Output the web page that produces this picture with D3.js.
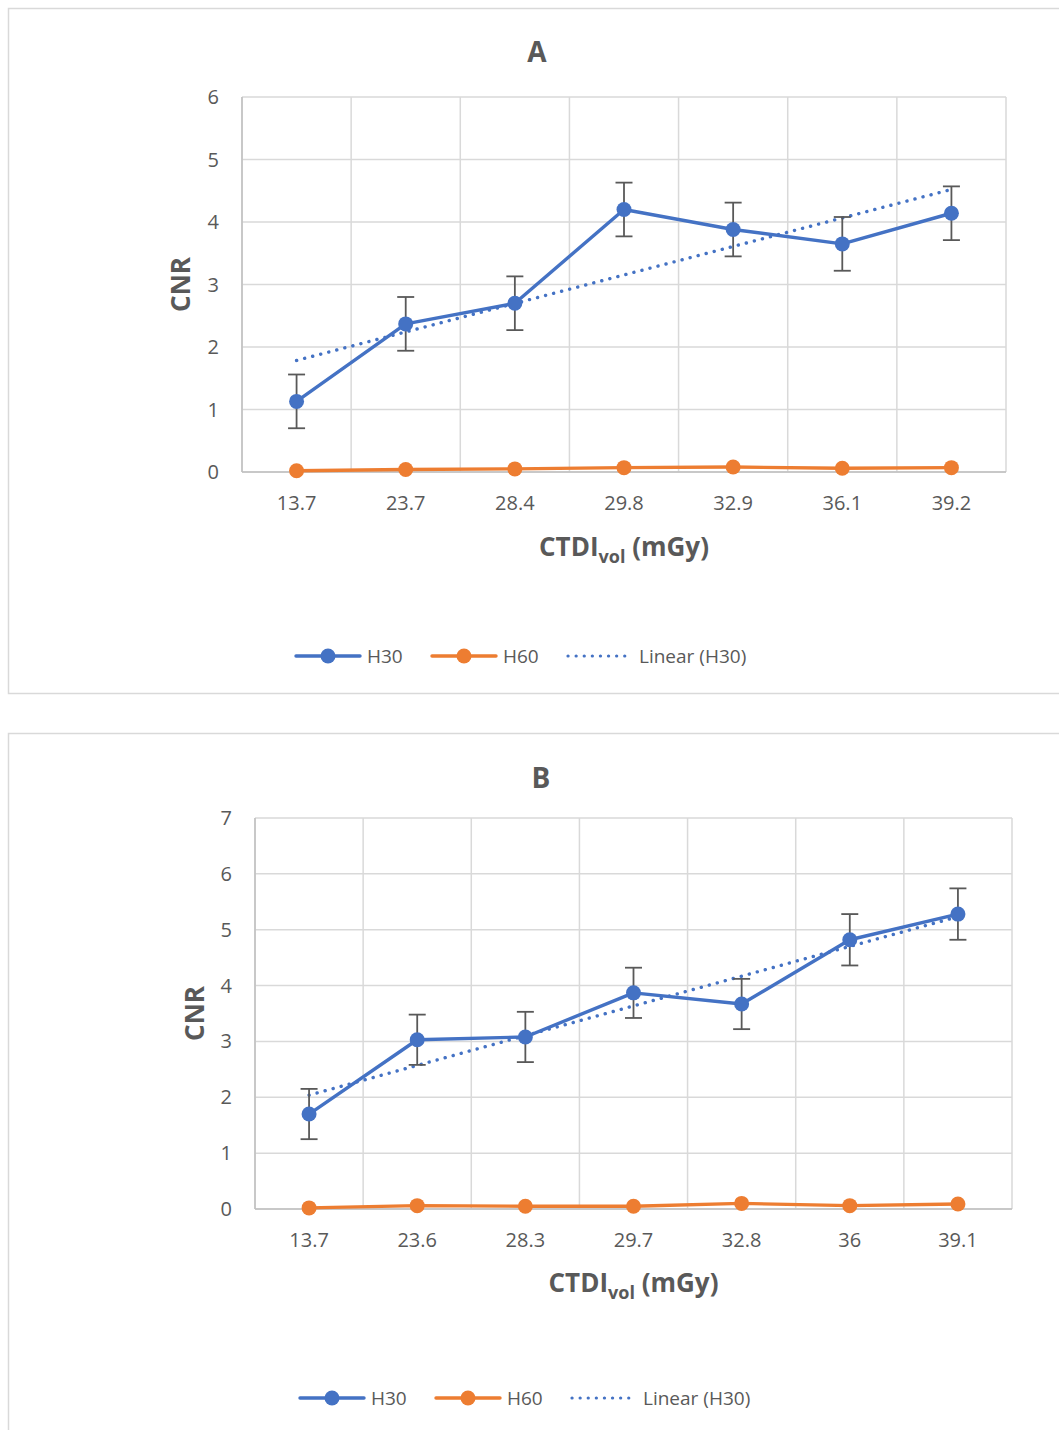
<!DOCTYPE html>
<html>
<head>
<meta charset="utf-8">
<script src="https://cdn.jsdelivr.net/npm/d3@7"></script>
<style>
    body { margin: 0; background: #fff; }
    svg { display: block; font-family: 'Open Sans', 'Noto Sans', sans-serif; }
    .tick-label { fill: #595959; font-size: 20px; }
    .axis-title { fill: #595959; font-weight: bold; }
    .legend-label { fill: #595959; font-size: 19px; }
</style>
</head>
<body>
<div id="chart"></div>
<script>
// panel A
const catsA = ['13.7', '23.7', '28.4', '29.8', '32.9', '36.1', '39.2']
const h30A = [1.13, 2.37, 2.70, 4.20, 3.88, 3.65, 4.14]
const h30ErrA = [0.43, 0.43, 0.43, 0.43, 0.43, 0.43, 0.43]
const h60A = [0.02, 0.04, 0.05, 0.07, 0.08, 0.06, 0.07]
const yTicksA = [0, 1, 2, 3, 4, 5, 6]

// panel B
const catsB = ['13.7', '23.6', '28.3', '29.7', '32.8', '36', '39.1']
const h30B = [1.70, 3.03, 3.08, 3.87, 3.67, 4.82, 5.28]
const h30ErrB = [0.45, 0.45, 0.45, 0.45, 0.45, 0.46, 0.46]
const h60B = [0.02, 0.06, 0.05, 0.05, 0.10, 0.06, 0.09]
const yTicksB = [0, 1, 2, 3, 4, 5, 6, 7]

const blue = '#4472c4'
const orange = '#ed7d31'

const svg = d3.select('#chart').append('svg')
    .attr('width', 1059).attr('height', 1430)

drawPanel({
    top: 8, height: 685, title: 'A', titleX: 537, titleY: 62,
    plot: { left: 242, right: 1006, top: 97, bottom: 472 },
    cats: catsA, h30: h30A, err: h30ErrA, h60: h60A, yTicks: yTicksA,
    cnrX: 181, xTitleY: 556, legendY: 656, legendX: 295
})
drawPanel({
    top: 733, height: 760, title: 'B', titleX: 541, titleY: 788,
    plot: { left: 255, right: 1012, top: 818, bottom: 1209 },
    cats: catsB, h30: h30B, err: h30ErrB, h60: h60B, yTicks: yTicksB,
    cnrX: 195, xTitleY: 1292, legendY: 1398, legendX: 299
})

function drawPanel(p) {
    const g = svg.append('g')

    // chart border (runs off the right edge)
    g.append('rect')
        .attr('x', 8.5).attr('y', p.top + .5)
        .attr('width', 1100).attr('height', p.height)
        .attr('fill', 'none').attr('stroke', '#d9d9d9').attr('stroke-width', 1.5)

    const xScale = d3.scaleBand()
        .domain(p.cats)
        .range([p.plot.left, p.plot.right])
    const bw = xScale.bandwidth()
    const cx = d => xScale(d) + bw / 2

    const yScale = d3.scaleLinear()
        .domain([0, d3.max(p.yTicks)])
        .range([p.plot.bottom, p.plot.top])

    // gridlines
    g.selectAll('.hgrid').data(p.yTicks).join('line')
        .attr('x1', p.plot.left).attr('x2', p.plot.right)
        .attr('y1', d => yScale(d)).attr('y2', d => yScale(d))
        .attr('stroke', '#d9d9d9').attr('stroke-width', 1.5)
    g.selectAll('.vgrid').data(d3.range(p.cats.length + 1)).join('line')
        .attr('x1', i => p.plot.left + i * bw).attr('x2', i => p.plot.left + i * bw)
        .attr('y1', p.plot.top).attr('y2', p.plot.bottom)
        .attr('stroke', '#d9d9d9').attr('stroke-width', 1.5)

    // axis lines
    g.append('line')
        .attr('x1', p.plot.left).attr('x2', p.plot.left)
        .attr('y1', p.plot.top).attr('y2', p.plot.bottom)
        .attr('stroke', '#bfbfbf').attr('stroke-width', 1.5)
    g.append('line')
        .attr('x1', p.plot.left).attr('x2', p.plot.right)
        .attr('y1', p.plot.bottom).attr('y2', p.plot.bottom)
        .attr('stroke', '#bfbfbf').attr('stroke-width', 1.5)

    // tick labels
    g.selectAll('.ytick').data(p.yTicks).join('text')
        .attr('class', 'tick-label')
        .attr('x', p.plot.left - 23).attr('y', d => yScale(d))
        .attr('dy', '.35em').attr('text-anchor', 'end')
        .text(d => d)
    g.selectAll('.xtick').data(p.cats).join('text')
        .attr('class', 'tick-label')
        .attr('x', cx).attr('y', p.plot.bottom + 31)
        .attr('dy', '.35em').attr('text-anchor', 'middle')
        .text(d => d)

    // titles
    g.append('text').attr('class', 'axis-title')
        .attr('x', p.titleX).attr('y', p.titleY)
        .attr('text-anchor', 'middle').style('font-size', '28px')
        .text(p.title)
    g.append('text').attr('class', 'axis-title')
        .attr('transform', `translate(${p.cnrX + 9}, ${(p.plot.top + p.plot.bottom) / 2}) rotate(-90)`)
        .attr('text-anchor', 'middle').style('font-size', '26px')
        .text('CNR')
    const xt = g.append('text').attr('class', 'axis-title')
        .attr('x', (p.plot.left + p.plot.right) / 2).attr('y', p.xTitleY)
        .attr('text-anchor', 'middle').style('font-size', '26px')
    xt.append('tspan').text('CTDI')
    xt.append('tspan').attr('dy', 7).style('font-size', '18px').text('vol')
    xt.append('tspan').attr('dy', -7).text(' (mGy)')

    // linear trend of H30
    const xs = p.h30.map((d, i) => i + 1)
    const mx = d3.mean(xs), my = d3.mean(p.h30)
    const slope = d3.sum(xs, (x, i) => (x - mx) * (p.h30[i] - my)) / d3.sum(xs, x => (x - mx) ** 2)
    const icpt = my - slope * mx
    const first = p.cats[0], last = p.cats[p.cats.length - 1]
    g.append('line')
        .attr('x1', cx(first)).attr('y1', yScale(icpt + slope * 1))
        .attr('x2', cx(last)).attr('y2', yScale(icpt + slope * p.cats.length))
        .attr('stroke', blue).attr('stroke-width', 3.4)
        .attr('stroke-linecap', 'round').attr('stroke-dasharray', '0.1 8.2')

    const line = d3.line().x((d, i) => cx(p.cats[i])).y(d => yScale(d))

    // error bars
    const eb = g.selectAll('.err').data(p.h30).join('g')
    eb.append('line')
        .attr('x1', (d, i) => cx(p.cats[i])).attr('x2', (d, i) => cx(p.cats[i]))
        .attr('y1', (d, i) => yScale(d + p.err[i])).attr('y2', (d, i) => yScale(d - p.err[i]))
        .attr('stroke', '#595959').attr('stroke-width', 1.8)
    eb.selectAll('.cap').data((d, i) => [[i, d + p.err[i]], [i, d - p.err[i]]]).join('line')
        .attr('x1', c => cx(p.cats[c[0]]) - 8.5).attr('x2', c => cx(p.cats[c[0]]) + 8.5)
        .attr('y1', c => yScale(c[1])).attr('y2', c => yScale(c[1]))
        .attr('stroke', '#595959').attr('stroke-width', 1.8)

    // series
    const series = [[p.h30, blue], [p.h60, orange]]
    series.forEach(([vals, color]) => {
        g.append('path').datum(vals)
            .attr('d', line).attr('fill', 'none')
            .attr('stroke', color).attr('stroke-width', 3.4)
            .attr('stroke-linejoin', 'round')
        g.selectAll(null).data(vals).join('circle')
            .attr('cx', (d, i) => cx(p.cats[i])).attr('cy', d => yScale(d))
            .attr('r', 7.5).attr('fill', color)
    })

    // legend
    const leg = g.append('g').attr('transform', `translate(${p.legendX}, ${p.legendY})`)
    const items = [
        { label: 'H30', color: blue, x: 0, type: 'marker' },
        { label: 'H60', color: orange, x: 136, type: 'marker' },
        { label: 'Linear (H30)', color: blue, x: 272, type: 'dot' }
    ]
    items.forEach(it => {
        const li = leg.append('g').attr('transform', `translate(${it.x}, 0)`)
        if (it.type == 'marker') {
            li.append('line').attr('x1', 1).attr('x2', 65)
                .attr('stroke', it.color).attr('stroke-width', 3.4).attr('stroke-linecap', 'round')
            li.append('circle').attr('cx', 33).attr('r', 7.5).attr('fill', it.color)
        } else {
            li.append('line').attr('x1', 1).attr('x2', 65)
                .attr('stroke', it.color).attr('stroke-width', 3.2)
                .attr('stroke-linecap', 'round').attr('stroke-dasharray', '0.1 8')
        }
        li.append('text').attr('class', 'legend-label')
            .attr('x', 72).attr('dy', '.35em').text(it.label)
    })
}
</script>
</body>
</html>
